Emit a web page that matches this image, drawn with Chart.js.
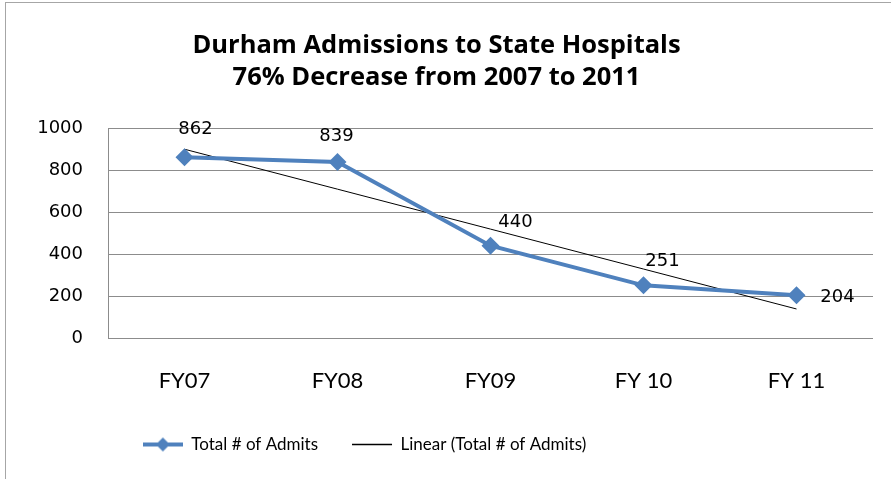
<!DOCTYPE html>
<html>
<head>
<meta charset="utf-8">
<script src="https://cdn.jsdelivr.net/npm/chart.js@4/dist/chart.umd.min.js"></script>
<style>
  html, body { margin: 0; padding: 0; background: #fff; }
  #wrap { width: 891px; height: 479px; }
</style>
</head>
<body>
<div id="wrap"><canvas id="chart" width="891" height="479"></canvas></div>
<script>
// ---- data ----
const categories = ['FY07', 'FY08', 'FY09', 'FY 10', 'FY 11'];
const admits = [862, 839, 440, 251, 204];
const yTicks = [0, 200, 400, 600, 800, 1000];
const titleLines = ['Durham Admissions to State Hospitals', '76% Decrease from 2007 to 2011'];

const BLUE = '#4F81BD';

// least squares trend over category index 1..n
function linearTrend(vals) {
  const n = vals.length;
  const xs = vals.map((_, i) => i + 1);
  const mx = xs.reduce((a, b) => a + b, 0) / n;
  const my = vals.reduce((a, b) => a + b, 0) / n;
  let num = 0, den = 0;
  xs.forEach((x, i) => { num += (x - mx) * (vals[i] - my); den += (x - mx) * (x - mx); });
  const slope = num / den;
  return xs.map(x => my + slope * (x - mx));
}
const trend = linearTrend(admits);

// legend icon: thick blue line with a diamond
function makeIcon() {
  const c = document.createElement('canvas');
  c.width = 40; c.height = 16;
  const g = c.getContext('2d');
  g.strokeStyle = BLUE; g.lineWidth = 4;
  g.beginPath(); g.moveTo(0, 8); g.lineTo(40, 8); g.stroke();
  g.fillStyle = BLUE;
  g.beginPath(); g.moveTo(20, 1); g.lineTo(27, 8); g.lineTo(20, 15); g.lineTo(13, 8); g.closePath(); g.fill();
  return c;
}
const icon = makeIcon();

// outer frame like the spreadsheet chart border
const framePlugin = {
  id: 'frame',
  beforeDraw(chart) {
    const ctx = chart.ctx;
    ctx.save();
    ctx.strokeStyle = '#a6a6a6';
    ctx.lineWidth = 1;
    ctx.strokeRect(5.5, 2.5, 1000, 1000);
    ctx.restore();
  }
};

// legend sits a bit left of centre in the original
const legendShift = {
  id: 'legendShift',
  afterLayout(chart) {
    if (chart.legend) {
      chart.legend.left -= 72;
      chart.legend.right -= 72;
    }
  }
};

// value labels, offsets (px) from each point as placed in the original
const labelDx = [11, -1, 25, 19, 41];
const labelDy = [-28, -26, -23, -24, 2];
const valueLabels = {
  id: 'valueLabels',
  afterDatasetsDraw(chart) {
    const meta = chart.getDatasetMeta(0);
    const ctx = chart.ctx;
    ctx.save();
    ctx.font = '18px "DejaVu Sans"';
    ctx.fillStyle = '#000';
    ctx.textAlign = 'center';
    ctx.textBaseline = 'middle';
    meta.data.forEach((pt, i) => {
      ctx.fillText(String(admits[i]), pt.x + labelDx[i], pt.y + labelDy[i]);
    });
    ctx.restore();
  }
};

new Chart(document.getElementById('chart'), {
  type: 'line',
  data: {
    labels: categories,
    datasets: [
      {
        label: 'Total # of Admits',
        data: admits,
        borderColor: BLUE,
        backgroundColor: BLUE,
        borderWidth: 4,
        pointStyle: 'rectRot',
        pointRadius: 9,
        pointBorderWidth: 0,
        tension: 0
      },
      {
        label: 'Linear (Total # of Admits)',
        data: trend,
        borderColor: '#000',
        backgroundColor: '#000',
        borderWidth: 1,
        pointRadius: 0,
        tension: 0
      }
    ]
  },
  options: {
    responsive: false,
    animation: false,
    layout: { padding: { top: 3, right: 18, bottom: 16, left: 0 } },
    plugins: {
      title: {
        display: true,
        text: titleLines,
        color: '#000',
        font: { family: 'Open Sans', size: 25.5, weight: 'bold', lineHeight: 1.26 },
        padding: { top: 27, bottom: 34 }
      },
      legend: {
        position: 'bottom',
        labels: {
          color: '#000',
          font: { family: 'Lato', size: 17 },
          usePointStyle: true,
          pointStyleWidth: 40,
          padding: 34,
          generateLabels(chart) {
            const items = Chart.defaults.plugins.legend.labels.generateLabels(chart);
            items[0].pointStyle = icon;
            items[1].pointStyle = 'line';
            items[1].lineWidth = 1.5;
            items[1].strokeStyle = '#000';
            return items;
          }
        }
      },
      tooltip: { enabled: false }
    },
    scales: {
      x: {
        offset: true,
        grid: { display: false, drawTicks: false },
        border: { display: false },
        ticks: { color: '#000', font: { family: 'Lato', size: 22 }, padding: 30 },
        afterFit(scale) { scale.height = 64; }
      },
      y: {
        min: 0,
        max: 1000,
        afterBuildTicks(scale) { scale.ticks = yTicks.map(v => ({ value: v })); },
        grid: { color: '#8c8c8c', lineWidth: 1, drawTicks: false },
        border: { display: true, color: '#8c8c8c' },
        ticks: {
          color: '#000',
          font: { family: 'DejaVu Sans', size: 18 },
          padding: 25,
          callback: v => String(v)
        },
        afterFit(scale) { scale.width = 108; }
      }
    }
  },
  plugins: [framePlugin, legendShift, valueLabels]
});
</script>
</body>
</html>
